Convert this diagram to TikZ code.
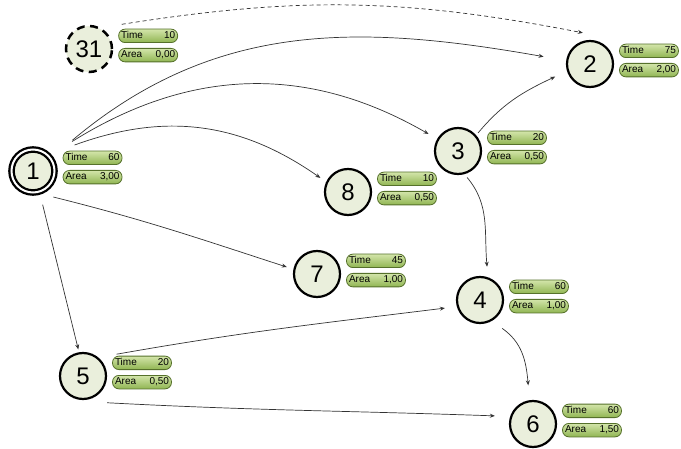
\documentclass[tikz,border=0pt]{standalone}
\usepackage{fontspec}
\setmainfont{Liberation Sans}
\usepackage{tikz}
\usetikzlibrary{positioning,arrows.meta,calc}
\usepackage{xcolor}
\definecolor{taskfill}{HTML}{EAEFDC}
\definecolor{pilltop}{HTML}{D3E5AA}
\definecolor{pillbot}{HTML}{90B552}
\definecolor{pillline}{HTML}{56712B}
\definecolor{flowgray}{HTML}{333333}

\begin{document}
\begin{tikzpicture}[x=1pt, y=1pt, >={Stealth[length=5pt,width=4pt]},
    task/.style={circle, draw, line width=2.2pt, fill=taskfill, minimum size=46pt, inner sep=0pt, font=\fontsize{24}{24}\selectfont},
    pill/.style={rectangle, rounded corners=6.5pt, draw=pillline, line width=0.8pt, top color=pilltop, bottom color=pillbot, minimum height=13.5pt, text width=54pt, text height=7.5pt, text depth=2pt, inner xsep=2.5pt, inner ysep=0pt, font=\fontsize{10}{10}\selectfont},
    flow/.style={->, draw=flowgray, line width=0.7pt}]
    \useasboundingbox (0,0) rectangle (681,448);

    % tasks
    \node[task, dash pattern=on 8pt off 5.5pt, line width=2.5pt] (n31) at (89,399) {31};
    \node[task, double, double distance=2pt, line width=2.3pt, minimum size=43pt] (n1) at (33,277) {1};
    \node[task] (n2) at (590,384) {2};
    \node[task] (n3) at (458,297) {3};
    \node[task] (n8) at (348,256) {8};
    \node[task] (n7) at (317,174) {7};
    \node[task] (n4) at (480,148) {4};
    \node[task] (n5) at (83,72) {5};
    \node[task] (n6) at (533,24) {6};

    % time and area
    \node[pill, above right=6pt and 5pt of n31.east] (n31t) {Time\hfill 10};
    \node[pill, below=5pt of n31t] (n31a) {Area\hfill 0,00};
    \node[pill, above right=6pt and 7pt of n1.east] (n1t) {Time\hfill 60};
    \node[pill, below=5pt of n1t] (n1a) {Area\hfill 3,00};
    \node[pill, above right=6pt and 5pt of n2.east] (n2t) {Time\hfill 75};
    \node[pill, below=5pt of n2t] (n2a) {Area\hfill 2,00};
    \node[pill, above right=6pt and 5pt of n3.east] (n3t) {Time\hfill 20};
    \node[pill, below=5pt of n3t] (n3a) {Area\hfill 0,50};
    \node[pill, above right=6pt and 5pt of n8.east] (n8t) {Time\hfill 10};
    \node[pill, below=5pt of n8t] (n8a) {Area\hfill 0,50};
    \node[pill, above right=6pt and 5pt of n7.east] (n7t) {Time\hfill 45};
    \node[pill, below=5pt of n7t] (n7a) {Area\hfill 1,00};
    \node[pill, above right=6pt and 5pt of n4.east] (n4t) {Time\hfill 60};
    \node[pill, below=5pt of n4t] (n4a) {Area\hfill 1,00};
    \node[pill, above right=6pt and 5pt of n5.east] (n5t) {Time\hfill 20};
    \node[pill, below=5pt of n5t] (n5a) {Area\hfill 0,50};
    \node[pill, above right=6pt and 5pt of n6.east] (n6t) {Time\hfill 60};
    \node[pill, below=5pt of n6t] (n6a) {Area\hfill 1,50};

    % flows
    \draw[flow, dashed, dash pattern=on 4pt off 3pt] ($(n31)+(37:41)$) to[out=9, in=169] ($(n2)+(103:32)$);
    \draw[flow] ($(n1)+(38:50)$) to[out=40, in=170] ($(n2)+(171:47)$);
    \draw[flow] ($(n1)+(37:49)$) to[out=32, in=150] ($(n3)+(150:34)$);
    \draw[flow] ($(n1)+(32:49)$) to[out=20, in=145] ($(n8)+(153:31)$);
    \draw[flow] ($(n1)+(-52:33)$) to[out=-14, in=162] ($(n7)+(167:31)$);
    \draw[flow] ($(n1)+(-74:35)$) -- ($(n5)+(100:27)$);
    \draw[flow] ($(n3)+(42:27)$) to[out=50, in=205] ($(n2)+(200:37)$);
    \draw[flow] ($(n3)+(-71:28)$) to[out=-50, in=95] ($(n4)+(78:34)$);
    \draw[flow] ($(n5)+(33:40)$) to[out=10, in=187] ($(n4)+(193:36)$);
    \draw[flow] ($(n5)+(-48:36)$) to[out=-3, in=178] ($(n6)+(168:39)$);
    \draw[flow] ($(n4)+(-52:36)$) to[out=-35, in=95] ($(n6)+(97:39)$);
\end{tikzpicture}
\end{document}
